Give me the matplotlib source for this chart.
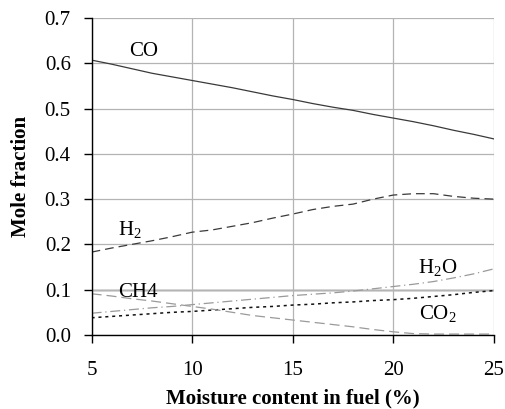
import matplotlib
matplotlib.use("Agg")
import matplotlib.pyplot as plt

plt.rcParams['font.family'] = ['Liberation Serif', 'DejaVu Serif']
plt.rcParams['mathtext.fontset'] = 'custom'
plt.rcParams['mathtext.rm'] = 'Liberation Serif'

# moisture content in fuel (%)
moisture = [5, 6, 7, 8, 9, 10, 11, 12, 13, 14, 15, 16, 17, 18, 19, 20, 21, 22, 23, 24, 25]

co = [0.607, 0.598, 0.588, 0.578, 0.570, 0.562, 0.554, 0.546, 0.537, 0.528, 0.520, 0.511, 0.503, 0.496, 0.487, 0.479, 0.471, 0.462, 0.452, 0.443, 0.433]
h2 = [0.183, 0.192, 0.200, 0.208, 0.217, 0.227, 0.232, 0.240, 0.248, 0.258, 0.267, 0.277, 0.284, 0.289, 0.300, 0.309, 0.312, 0.312, 0.306, 0.302, 0.300]
h2o = [0.048, 0.052, 0.056, 0.060, 0.063, 0.067, 0.071, 0.075, 0.079, 0.083, 0.087, 0.090, 0.093, 0.097, 0.102, 0.107, 0.112, 0.118, 0.126, 0.135, 0.146]
co2 = [0.038, 0.041, 0.044, 0.047, 0.050, 0.052, 0.055, 0.058, 0.061, 0.063, 0.066, 0.068, 0.071, 0.073, 0.076, 0.078, 0.081, 0.085, 0.089, 0.094, 0.098]
ch4 = [0.091, 0.086, 0.080, 0.075, 0.069, 0.063, 0.057, 0.050, 0.043, 0.038, 0.033, 0.028, 0.023, 0.018, 0.012, 0.007, 0.003, 0.002, 0.002, 0.002, 0.002]

fig = plt.figure(figsize=(5.06, 4.09), dpi=100)
ax = fig.add_axes([0.181, 0.181, 0.795, 0.775])

ax.plot(moisture, co, color='#3a3a3a', lw=0.9, ls='-')
ax.plot(moisture, h2, color='#3a3a3a', lw=0.9, ls=(0, (7, 4)))
ax.plot(moisture, h2o, color='#9a9a9a', lw=0.9, ls=(0, (8, 3, 1, 3)))
ax.plot(moisture, co2, color='#111111', lw=1.1, ls=(0, (2, 2.5)))
ax.plot(moisture, ch4, color='#9a9a9a', lw=0.9, ls=(0, (8, 4)))

fs = 15
ax.text(7.6, 0.625, 'CO', fontsize=fs, ha='center', va='center')
ax.text(6.9, 0.232, r'H$_2$', fontsize=fs, ha='center', va='center')
ax.text(7.3, 0.093, 'CH4', fontsize=fs, ha='center', va='center')
ax.text(22.2, 0.148, r'H$_2$O', fontsize=fs, ha='center', va='center')
ax.text(22.2, 0.045, r'CO$_2$', fontsize=fs, ha='center', va='center')

ax.set_xlim(5, 25)
ax.set_ylim(0, 0.7)
ax.set_xticks([5, 10, 15, 20, 25])
ax.set_yticks([0.0, 0.1, 0.2, 0.3, 0.4, 0.5, 0.6, 0.7])
ax.set_yticklabels(['0.0', '0.1', '0.2', '0.3', '0.4', '0.5', '0.6', '0.7'])
ax.tick_params(labelsize=fs, direction='out', length=6, width=1)
ax.tick_params(axis='x', pad=13)
ax.tick_params(axis='y', pad=9)

ax.grid(True, color='#b4b4b4', lw=0.9)
ax.axhline(0.1, color='#cfcfcf', lw=1.8, zorder=0.5)
ax.set_axisbelow(True)
for side in ['top', 'right']:
    ax.spines[side].set_visible(False)
for side in ['left', 'bottom']:
    ax.spines[side].set_color('black')
    ax.spines[side].set_linewidth(1)

ax.set_xlabel('Moisture content in fuel (%)', fontsize=fs, fontweight='bold', labelpad=6)
ax.set_ylabel('Mole fraction', fontsize=fs, fontweight='bold', labelpad=9.5)

fig.savefig('out.png', dpi=100)
